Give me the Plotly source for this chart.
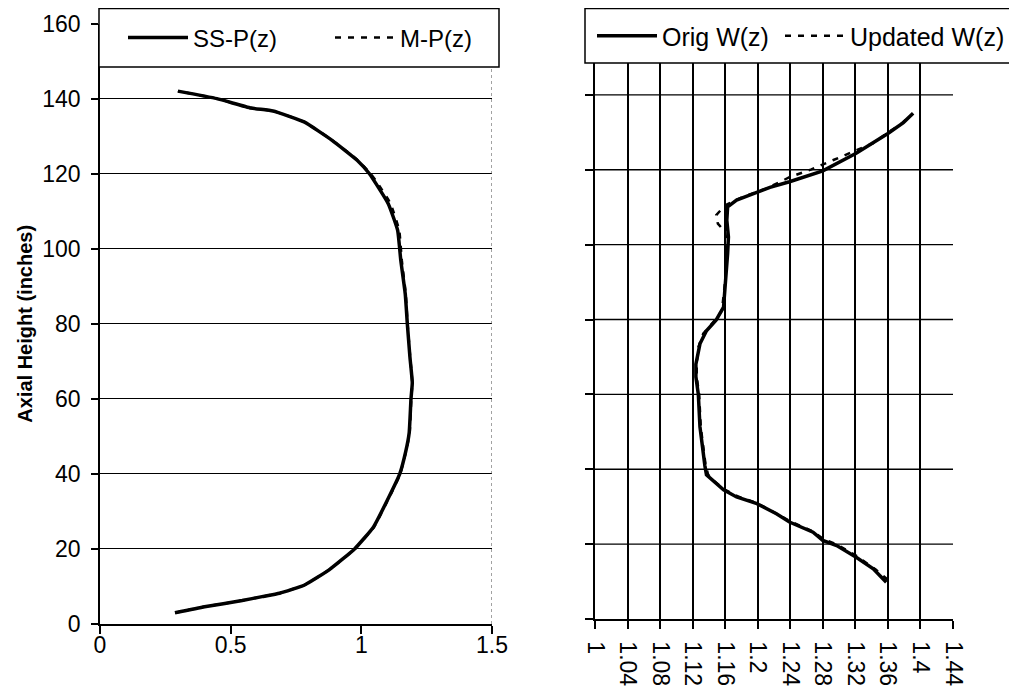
import plotly.graph_objects as go

# ---------------- data ----------------
# Left panel: axial power shapes
ss_p_z = [3.0, 4.6, 6.25, 7.3, 8.2, 10.4, 14.5, 20.0, 25.8, 33.9, 40.0, 46.0, 50.9, 60.0, 64.3,
          71.1, 80.0, 88.0, 96.9, 104.9, 112.0, 120.0, 123.6, 128.9, 133.8, 136.7, 137.5, 140.0, 142.0]
ss_p_x = [0.287, 0.40, 0.544, 0.62, 0.687, 0.783, 0.878, 0.974, 1.046, 1.106, 1.147, 1.170, 1.183, 1.190, 1.195,
          1.186, 1.176, 1.168, 1.151, 1.139, 1.103, 1.031, 0.984, 0.888, 0.781, 0.662, 0.578, 0.447, 0.298]

m_p_z = [3.0, 4.6, 6.25, 7.3, 8.2, 10.4, 14.5, 20.0, 25.8, 33.9, 40.0, 46.0, 50.9, 60.0, 64.3,
         71.1, 80.0, 88.0, 96.9, 104.9, 112.0, 117.0, 120.0, 123.6, 128.9, 133.8, 136.7, 137.5, 140.0, 142.0]
m_p_x = [0.287, 0.40, 0.544, 0.62, 0.687, 0.783, 0.878, 0.976, 1.048, 1.108, 1.149, 1.171, 1.185, 1.191, 1.195,
         1.187, 1.177, 1.170, 1.155, 1.145, 1.112, 1.067, 1.036, 0.986, 0.889, 0.781, 0.662, 0.578, 0.447, 0.298]

# Right panel: W(z) factors
orig_w_z = [9.8, 13.4, 16.5, 19.6, 21.0, 23.2, 25.9, 28.1, 30.8, 32.6, 34.5, 36.8, 38.5, 41.0, 46.0,
            51.3, 60.0, 64.7, 68.1, 73.5, 77.0, 79.9, 83.3, 90.4, 97.6, 102.0, 106.5, 110.1, 111.9,
            113.2, 115.3, 116.8, 119.7, 124.4, 129.7, 132.6, 135.1]
orig_w_x = [1.358, 1.342, 1.321, 1.297, 1.280, 1.268, 1.239, 1.223, 1.199, 1.174, 1.158, 1.145, 1.137, 1.135, 1.132,
            1.129, 1.127, 1.124, 1.124, 1.129, 1.137, 1.149, 1.158, 1.161, 1.163, 1.164, 1.162, 1.163, 1.174,
            1.190, 1.215, 1.239, 1.280, 1.321, 1.360, 1.379, 1.391]

upd_w_z = [10.5, 13.2, 16.8, 19.8, 21.3, 23.4, 26.1, 28.3, 31.0, 32.8, 34.7, 36.9, 38.6, 41.0, 46.0,
           51.3, 60.0, 64.7, 68.1, 72.6, 76.2, 79.7, 82.4, 90.4, 97.6, 100.3, 103.4, 105.6, 107.9,
           110.5, 112.8, 115.0, 118.0, 120.1, 122.6, 124.8, 127.1, 129.9, 132.0, 134.5]
upd_w_x = [1.360, 1.345, 1.322, 1.298, 1.281, 1.268, 1.240, 1.222, 1.199, 1.175, 1.158, 1.146, 1.139, 1.136, 1.133,
           1.130, 1.128, 1.125, 1.125, 1.127, 1.133, 1.147, 1.156, 1.160, 1.162, 1.162, 1.160, 1.151, 1.149,
           1.160, 1.182, 1.211, 1.239, 1.266, 1.293, 1.317, 1.342, 1.360, 1.375, 1.388]

y_ticks = [0, 20, 40, 60, 80, 100, 120, 140, 160]
left_x_ticks = [0, 0.5, 1, 1.5]
left_x_labels = ["0", "0.5", "1", "1.5"]
right_x_ticks = [1.0, 1.04, 1.08, 1.12, 1.16, 1.2, 1.24, 1.28, 1.32, 1.36, 1.4, 1.44]
right_x_labels = ["1", "1.04", "1.08", "1.12", "1.16", "1.2", "1.24", "1.28", "1.32", "1.36", "1.4", "1.44"]

# ---------------- layout helpers (window pixel -> paper) ----------------
# the page body has an 8px margin, so the figure starts at window pixel (8, 8)
OFF = 8
W, H = 1017 - OFF, 697 - OFF
def px(x):
    return (x - OFF) / W
def py(y):
    return 1 - (y - OFF) / H

FONT = "Liberation Sans, Arial, sans-serif"
TICKFONT = dict(family=FONT, size=23, color="black")

fig = go.Figure()

fig.add_trace(go.Scatter(x=ss_p_x, y=ss_p_z, mode="lines", name="SS-P(z)",
                         line=dict(color="black", width=3.5, shape="spline", smoothing=0.4),
                         xaxis="x", yaxis="y", legend="legend"))
fig.add_trace(go.Scatter(x=m_p_x, y=m_p_z, mode="lines", name="M-P(z)",
                         line=dict(color="black", width=2.5, dash="6px,7px", shape="spline", smoothing=0.4),
                         xaxis="x", yaxis="y", legend="legend2"))
fig.add_trace(go.Scatter(x=orig_w_x, y=orig_w_z, mode="lines", name="Orig W(z)",
                         line=dict(color="black", width=3.5),
                         xaxis="x2", yaxis="y2", legend="legend3"))
fig.add_trace(go.Scatter(x=upd_w_x, y=upd_w_z, mode="lines", name="Updated W(z)",
                         line=dict(color="black", width=2.5, dash="6px,7px"),
                         xaxis="x2", yaxis="y2", legend="legend4"))

def legend_cfg(x, y, size):
    return dict(orientation="h", xanchor="left", yanchor="middle", x=x, y=y,
                bgcolor="rgba(0,0,0,0)", borderwidth=0, itemwidth=60,
                font=dict(family=FONT, size=size, color="black"))

# horizontal grid of the right panel (paper-x, data-y so it follows the y2 scale)
right_grid = [dict(type="line", xref="paper", yref="y2", x0=px(595), x1=px(953),
                   y0=v, y1=v, line=dict(color="black", width=1.4), layer="above")
              for v in y_ticks[1:]]

fig.update_layout(
    width=W, height=H,
    margin=dict(l=0, r=0, t=0, b=0),
    paper_bgcolor="white", plot_bgcolor="white",
    template="none",
    showlegend=True,
    xaxis=dict(domain=[px(100), px(492)], range=[0, 1.5], anchor="y",
               tickvals=left_x_ticks, ticktext=left_x_labels,
               ticks="outside", ticklen=8, tickwidth=1.5, tickcolor="black",
               showline=True, linecolor="black", linewidth=1.5,
               showgrid=False, zeroline=False, tickfont=TICKFONT, automargin=False,
               ticklabelstandoff=-8),
    yaxis=dict(domain=[py(624), py(23.6)], range=[0, 160], anchor="x",
               tickvals=y_ticks, ticks="outside", ticklen=7, tickwidth=1.5, tickcolor="black",
               showline=True, linecolor="black", linewidth=1.5,
               showgrid=True, gridcolor="black", gridwidth=1.2, zeroline=False,
               tickfont=TICKFONT, automargin=False, ticklabelstandoff=6,
               title=dict(text="<b>Axial Height (inches)</b>",
                          font=dict(family=FONT, size=20, color="black"), standoff=4)),
    xaxis2=dict(domain=[px(595), px(953)], range=[1.0, 1.44], anchor="y2",
                tickvals=right_x_ticks, ticktext=right_x_labels, tickangle=90,
                ticks="outside", ticklen=8, tickwidth=1.5, tickcolor="black",
                showline=True, linecolor="black", linewidth=1.5,
                showgrid=True, gridcolor="black", gridwidth=1.5, zeroline=False,
                tickfont=TICKFONT, automargin=False, ticklabelstandoff=8),
    yaxis2=dict(domain=[py(619), py(20)], range=[0, 160], anchor="x2",
                tickvals=y_ticks, showticklabels=False,
                ticks="outside", ticklen=8, tickwidth=1.5, tickcolor="black",
                showline=True, linecolor="black", linewidth=1.5,
                showgrid=False, zeroline=False, automargin=False),
    legend=legend_cfg(px(123), py(38), 24),
    legend2=legend_cfg(px(330), py(38), 24),
    legend3=legend_cfg(px(592), py(36), 25),
    legend4=legend_cfg(px(780), py(36), 25),
    shapes=right_grid + [
        # right border of the left plot
        dict(type="line", xref="x", yref="y", x0=1.5, x1=1.5, y0=0, y1=160,
             line=dict(color="#444", width=1, dash="dot"), layer="above"),
        # legend boxes
        dict(type="rect", xref="paper", yref="paper", x0=px(99), x1=px(499), y0=py(67), y1=py(8.5),
             fillcolor="white", line=dict(color="black", width=1.5), layer="above"),
        dict(type="rect", xref="paper", yref="paper", x0=px(585), x1=px(1016), y0=py(63), y1=py(8.5),
             fillcolor="white", line=dict(color="black", width=1.5), layer="above"),
    ],
)

fig.write_html("out.html")
